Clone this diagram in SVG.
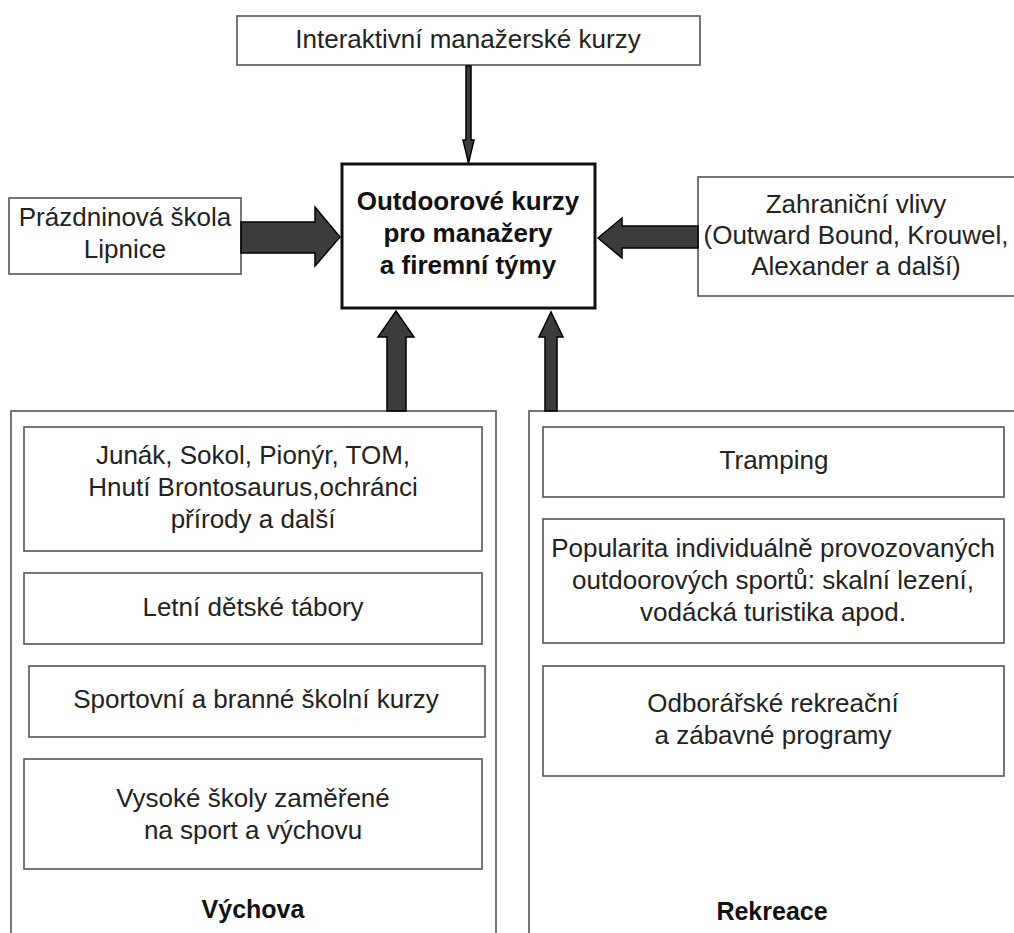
<svg xmlns="http://www.w3.org/2000/svg" width="1014" height="933" viewBox="0 0 1014 933">
<style>
.box{fill:#fff;stroke:#555;stroke-width:1.6}
.main{fill:#fff;stroke:#111;stroke-width:3}
.t{font-family:"Liberation Sans",Arial,sans-serif;font-size:26px;fill:#222;text-anchor:middle}
.b{font-family:"Liberation Sans",Arial,sans-serif;font-size:25px;font-weight:bold;fill:#111;text-anchor:middle}
.bm{font-family:"Liberation Sans",Arial,sans-serif;font-size:26px;font-weight:bold;fill:#111;text-anchor:middle}
.arr{fill:#3c3c3c;stroke:#000;stroke-width:1.5;stroke-linejoin:miter}
</style>
<rect width="1014" height="933" fill="#fff"/>
<g id="vychova">
<rect class="box" x="11" y="411" width="485" height="540"/>
<text class="b" x="253" y="918">Výchova</text>
</g>
<g id="rekreace">
<rect class="box" x="529" y="411" width="500" height="540"/>
<text class="b" x="772" y="920">Rekreace</text>
</g>
<g id="interaktivni">
<rect class="box" x="237" y="16" width="463" height="49"/>
<text class="t" x="468" y="48">Interaktivní manažerské kurzy</text>
</g>
<g id="outdoor">
<rect class="main" x="342" y="164" width="253" height="144"/>
<text class="bm" x="468" y="210">Outdoorové kurzy</text>
<text class="bm" x="468" y="242">pro manažery</text>
<text class="bm" x="468" y="274">a firemní týmy</text>
</g>
<g id="prazdninova">
<rect class="box" x="9" y="198" width="232" height="76"/>
<text class="t" x="125" y="226">Prázdninová škola</text>
<text class="t" x="125" y="258">Lipnice</text>
</g>
<g id="zahranicni">
<rect class="box" x="698" y="177" width="320" height="119"/>
<text class="t" x="856" y="213">Zahraniční vlivy</text>
<text class="t" x="856" y="244">(Outward Bound, Krouwel,</text>
<text class="t" x="856" y="275">Alexander a další)</text>
</g>
<g id="junak">
<rect class="box" x="24" y="427" width="458" height="124"/>
<text class="t" x="253" y="464">Junák, Sokol, Pionýr, TOM,</text>
<text class="t" x="253" y="496">Hnutí Brontosaurus,ochránci</text>
<text class="t" x="253" y="528">přírody a další</text>
</g>
<g id="letni">
<rect class="box" x="24" y="573" width="458" height="71"/>
<text class="t" x="253" y="616">Letní dětské tábory</text>
</g>
<g id="sportovni">
<rect class="box" x="29" y="666" width="456" height="71"/>
<text class="t" x="256" y="708">Sportovní a branné školní kurzy</text>
</g>
<g id="vysoke">
<rect class="box" x="24" y="759" width="458" height="110"/>
<text class="t" x="253" y="807">Vysoké školy zaměřené</text>
<text class="t" x="253" y="839">na sport a výchovu</text>
</g>
<g id="tramping">
<rect class="box" x="543" y="427" width="461" height="70"/>
<text class="t" x="774" y="469">Tramping</text>
</g>
<g id="popularita">
<rect class="box" x="543" y="519" width="461" height="124"/>
<text class="t" x="773" y="557">Popularita individuálně provozovaných</text>
<text class="t" x="773" y="589">outdoorových sportů: skalní lezení,</text>
<text class="t" x="773" y="621">vodácká turistika apod.</text>
</g>
<g id="odborarske">
<rect class="box" x="543" y="666" width="461" height="110"/>
<text class="t" x="773" y="712">Odborářské rekreační</text>
<text class="t" x="773" y="744">a zábavné programy</text>
</g>
<g id="connectors">
<polygon class="arr" points="466,66 471,66 471,140 474,140 468.5,163 463,140 466,140"/>
<polygon class="arr" points="241,222 315,222 315,207 340,237 315,266 315,253 241,253"/>
<polygon class="arr" points="698,226 622,226 622,218 598,238 622,258 622,248 698,248"/>
<polygon class="arr" points="387,411 387,337 378,337 396,311 414,337 406,337 406,411"/>
<polygon class="arr" points="545,411 545,337 539,337 551,312 563,337 557,337 557,411"/>
</g>
</svg>
